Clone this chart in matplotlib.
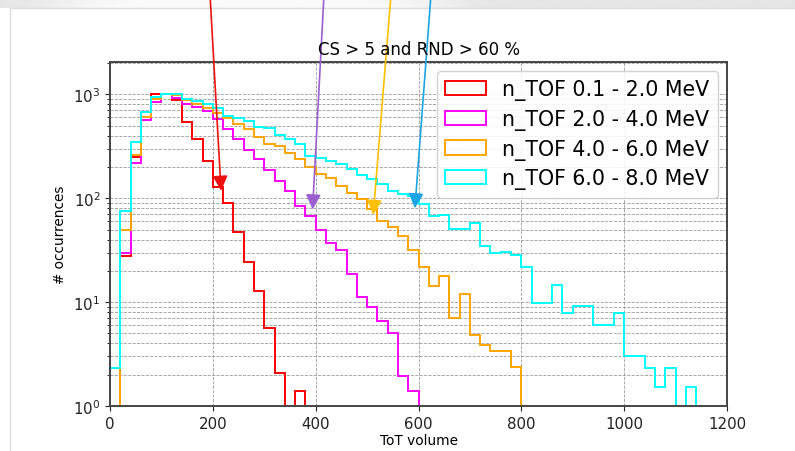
import numpy as np
import matplotlib
matplotlib.use("Agg")
import matplotlib.pyplot as plt
from matplotlib.patches import Rectangle

# ToT volume binning (20-unit bins)
bin_width = 20
n_bins = 58
edges = np.arange(0, (n_bins + 1) * bin_width, bin_width)
centers = edges[:-1] + bin_width / 2

labels = ["n_TOF 0.1 - 2.0 MeV", "n_TOF 2.0 - 4.0 MeV",
          "n_TOF 4.0 - 6.0 MeV", "n_TOF 6.0 - 8.0 MeV"]
colors = ["red", "magenta", "orange", "cyan"]

counts_0p1_2 = [0, 27.5, 251, 675, 1016, 1010, 890, 546, 369, 228, 128, 91, 47,
                24.4, 12.8, 5.6, 2.06, 0, 1.4]
counts_2_4 = [0, 30, 217, 562, 850, 1000, 920, 810, 750, 690, 575, 468, 375, 290,
              237, 186, 148, 117, 84, 67, 50, 37.5, 31.6, 18.6, 11.2, 9, 6.6, 5.0,
              1.95, 1.4]
counts_4_6 = [0, 50, 259, 611, 910, 1000, 990, 880, 800, 745, 667, 588, 523, 460,
              392, 330, 318, 275, 237, 202, 170, 158, 131, 113, 98, 78, 60, 53, 43,
              32, 22, 14.4, 17.7, 7.1, 12.1, 4.8, 3.9, 3.36, 3.36, 2.36]
counts_6_8 = [2.3, 75, 347, 675, 940, 1010, 1000, 900, 860, 801, 733, 619, 588,
              554, 489, 478, 406, 369, 330, 255, 246, 228, 212, 190, 166, 152, 138,
              117, 111, 105, 88, 67, 69, 51, 51, 58, 35, 29.6, 30.7, 28.3, 22, 9.9,
              9.9, 14.6, 7.8, 9.2, 9.2, 6.05, 6.05, 7.8, 3.05, 3.05, 2.3, 1.51, 2.3,
              0, 1.51]

# Arrow tips in data coordinates (ToT, count) and their start x along the top edge
arrow_tips = [(216, 118), (394, 78), (512, 69), (593, 80)]
arrow_starts_x = [210, 324, 391, 431]
arrow_colors = ["#ee1111", "#9b5fd0", "#ffc000", "#1aa6e4"]

W, H = 795, 452
fig = plt.figure(figsize=(W / 100, H / 100), dpi=100)
fig.patch.set_facecolor("white")

# slide background: grey band on top and a panel frame
bg = fig.add_axes([0, 0, 1, 1], zorder=-10)
bg.set_xlim(0, W)
bg.set_ylim(H, 0)
bg.axis("off")
xx = np.linspace(0, W, 400)
band = 0.90 + 0.08 * np.exp(-((xx - 250) / 200.0) ** 6)
bg.imshow(band[None, :], cmap="gray", vmin=0, vmax=1, aspect="auto",
          extent=(0, W, 9, 0), interpolation="bilinear")
bg.add_patch(Rectangle((10, 9), W, H, facecolor="white", edgecolor="#dcdcdc",
                       lw=1.0))

ax = fig.add_axes([110 / W, (H - 407) / H, 617 / W, 344 / H])

series = [counts_0p1_2, counts_2_4, counts_4_6, counts_6_8]
for vals, col, lab in zip(series, colors, labels):
    v = np.zeros(n_bins)
    v[:len(vals)] = vals
    ax.hist(centers, bins=edges, weights=v, histtype="step", log=True,
            color=col, lw=1.4, label=lab)

ax.set_xlim(0, 1200)
ax.set_ylim(1, 2050)
ax.set_xticks(np.arange(0, 1201, 200))
ax.grid(True, which="both", linestyle="--", color="#9a9a9a", lw=0.6)
ax.set_axisbelow(True)
for s in ax.spines.values():
    s.set_color("#444444")
    s.set_linewidth(1.4)
ax.tick_params(labelsize=10.8, colors="#222222")
ax.set_title("CS > 5 and RND > 60 %", fontsize=12, pad=6)
ax.set_xlabel("ToT volume", fontsize=9.8, labelpad=2)
ax.set_ylabel("# occurrences", fontsize=9.8)

leg = ax.legend(loc="upper right", fontsize=14.8, framealpha=0.85,
                edgecolor="#cccccc", borderaxespad=0.45, handlelength=2.0,
                labelspacing=0.42)

for (tx, ty), sx, col in zip(arrow_tips, arrow_starts_x, arrow_colors):
    ax.annotate("", xy=(tx, ty), xycoords="data",
                xytext=(sx / W, 1.01), textcoords="figure fraction",
                annotation_clip=False,
                arrowprops=dict(arrowstyle="-|>,head_length=0.9,head_width=0.45",
                                mutation_scale=10, color=col, lw=1.2,
                                shrinkA=0, shrinkB=0))

fig.savefig("out.png", dpi=100)
